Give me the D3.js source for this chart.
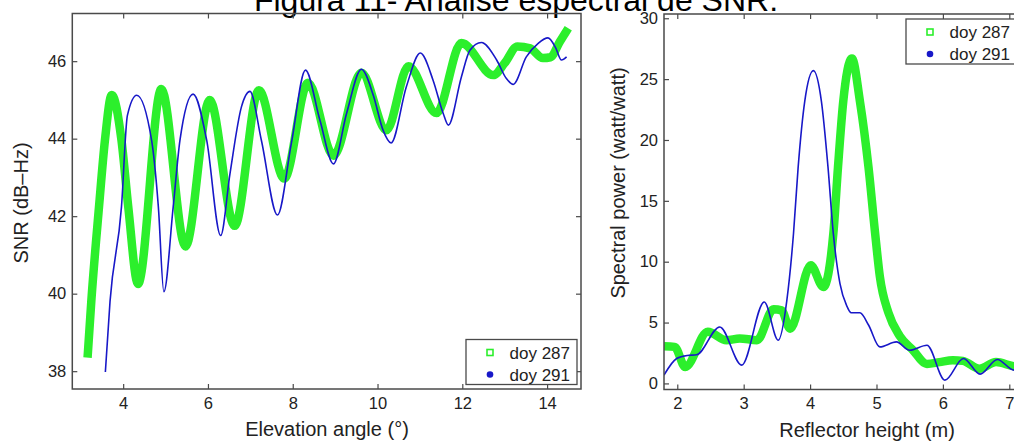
<!DOCTYPE html>
<html>
<head>
<meta charset="utf-8">
<script src="https://cdn.jsdelivr.net/npm/d3@7"></script>
<style>
  body { margin: 0; background: #fff; }
  svg { display: block; font-family: "Liberation Sans", Arial, sans-serif; }
</style>
</head>
<body>
<svg id="chart" width="1014" height="446"></svg>
<script>
// SNR vs elevation angle, doy 287 (green squares) and doy 291 (blue dots)
const snr287Angle = [3.16, 3.25, 3.43, 3.57, 3.73, 3.96, 4.12, 4.35, 4.9, 5.47, 6.04, 6.63, 7.2, 7.8,
  8.36, 8.96, 9.62, 10.21, 10.73, 11.39, 11.98, 12.73, 13.0, 13.3, 13.6, 13.9, 14.08, 14.3, 14.5];
const snr287Value = [38.35, 39.83, 42.24, 43.96, 45.13, 43.96, 42.24, 40.25, 45.28, 41.22, 45.0, 41.75, 45.25, 42.97,
  45.44, 43.56, 45.7, 44.22, 45.87, 44.66, 46.47, 45.64, 45.95, 46.38, 46.33, 46.08, 46.1, 46.5, 46.85];

const snr291Angle = [3.58, 3.69, 3.96, 4.1, 4.32, 4.67, 4.83, 4.96, 5.18, 5.34, 5.65, 5.97, 6.3, 6.52, 6.79, 6.99,
  7.26, 7.64, 7.97, 8.3, 8.64, 8.96, 9.27, 9.62, 9.9, 10.13, 10.32, 10.68, 11.01, 11.31, 11.55, 11.67,
  11.98, 12.18, 12.45, 12.81, 13.04, 13.2, 13.51, 13.79, 14.02, 14.2, 14.34, 14.46];
const snr291Value = [37.98, 39.8, 42.24, 44.6, 45.12, 43.96, 42.24, 40.05, 42.24, 43.96, 45.15, 43.96, 41.5, 43.1, 44.82, 45.22,
  43.96, 42.03, 43.9, 45.77, 44.48, 43.35, 44.65, 45.79, 45.12, 44.22, 43.89, 45.34, 46.21, 45.51, 44.65, 44.35,
  45.6, 46.28, 46.48, 46.03, 45.55, 45.4, 46.11, 46.46, 46.6, 46.35, 46.03, 46.11];

// Spectral power vs reflector height
const spec287Height = [1.8, 1.96, 2.12, 2.46, 2.74, 2.94, 3.2, 3.45, 3.57, 3.7, 4.01, 4.2, 4.35, 4.42, 4.5, 4.63,
  4.75, 4.88, 4.98, 5.05, 5.18, 5.35, 5.55, 5.76, 5.95, 6.15, 6.3, 6.55, 6.8, 7.1, 7.3];
const spec287Power = [3.05, 3.0, 1.35, 4.25, 3.55, 3.7, 3.55, 6.1, 6.0, 4.5, 9.7, 7.92, 12.3, 17.75, 23.2, 26.7,
  23.2, 17.75, 12.3, 8.8, 5.8, 3.9, 2.73, 1.6, 1.75, 1.9, 1.85, 1.2, 1.75, 1.4, 1.5];

const spec291Height = [1.8, 1.99, 2.15, 2.29, 2.64, 2.97, 3.31, 3.52, 3.65, 3.75, 3.82, 3.92, 4.05, 4.17, 4.27, 4.35,
  4.45, 4.55, 4.62, 4.75, 4.88, 5.05, 5.3, 5.5, 5.76, 6.03, 6.31, 6.56, 6.82, 7.07, 7.3];
const spec291Power = [0.68, 2.05, 2.3, 2.35, 4.64, 1.5, 6.69, 3.55, 6.83, 12.3, 17.75, 23.2, 25.7, 23.2, 17.75, 12.3,
  8.2, 6.4, 5.8, 5.8, 4.8, 3.0, 3.41, 2.73, 3.14, 0.27, 2.05, 0.76, 1.97, 1.09, 1.4];

const leftXTicks = [4, 6, 8, 10, 12, 14];
const leftYTicks = [38, 40, 42, 44, 46];
const rightXTicks = [2, 3, 4, 5, 6, 7];
const rightYTicks = [0, 5, 10, 15, 20, 25, 30];
const seriesNames = ["doy 287", "doy 291"];

const green = "#2cef2c";
const blue = "#1818c8";
const frameColor = "#4a4a4a";
const textColor = "#222";

const svg = d3.select("#chart");

svg.append("text")
  .attr("x", 516).attr("y", 11)
  .attr("text-anchor", "middle")
  .attr("font-size", 32)
  .attr("fill", "#000")
  .text("Figura 11- Análise espectral de SNR.");

function panel(opts) {
  const { id, left, right, top, bottom, xDomain, yDomain, xTicks, yTicks } = opts;
  const x = d3.scaleLinear().domain(xDomain).range([left, right]);
  const y = d3.scaleLinear().domain(yDomain).range([bottom, top]);
  const g = svg.append("g");

  g.append("clipPath").attr("id", id)
    .append("rect")
    .attr("x", left).attr("y", top)
    .attr("width", right - left).attr("height", bottom - top);

  const line = d3.line()
    .curve(d3.curveMonotoneX)
    .x(d => x(d[0]))
    .y(d => y(d[1]));

  const plot = g.append("g").attr("clip-path", `url(#${id})`);
  plot.append("path")
    .attr("d", line(d3.zip(opts.greenX, opts.greenY)))
    .attr("fill", "none")
    .attr("stroke", green)
    .attr("stroke-width", 8.5)
    .attr("stroke-linejoin", "round");
  plot.append("path")
    .attr("d", line(d3.zip(opts.blueX, opts.blueY)))
    .attr("fill", "none")
    .attr("stroke", blue)
    .attr("stroke-width", 1.6)
    .attr("stroke-linejoin", "round");

  const styleAxis = sel => {
    sel.select(".domain").remove();
    sel.selectAll(".tick line").attr("stroke", frameColor).attr("stroke-width", 1.2);
    sel.selectAll(".tick text").attr("fill", textColor).attr("font-size", 16.5)
      .attr("font-family", "Liberation Sans, Arial, sans-serif");
  };
  const fmt = d3.format("d");
  g.append("g").attr("transform", `translate(0,${bottom})`)
    .call(d3.axisBottom(x).tickValues(xTicks).tickSize(-5).tickPadding(8).tickFormat(fmt)).call(styleAxis);
  g.append("g").attr("transform", `translate(0,${top})`)
    .call(d3.axisTop(x).tickValues(xTicks).tickSize(-5).tickFormat("")).call(styleAxis);
  g.append("g").attr("transform", `translate(${left},0)`)
    .call(d3.axisLeft(y).tickValues(yTicks).tickSize(-5).tickPadding(6).tickFormat(fmt)).call(styleAxis);
  g.append("g").attr("transform", `translate(${right},0)`)
    .call(d3.axisRight(y).tickValues(yTicks).tickSize(-5).tickFormat("")).call(styleAxis);

  g.append("rect")
    .attr("x", left).attr("y", top)
    .attr("width", right - left).attr("height", bottom - top)
    .attr("fill", "none").attr("stroke", frameColor).attr("stroke-width", 1.5);

  g.append("text")
    .attr("x", opts.xLabelX).attr("y", opts.xLabelY)
    .attr("text-anchor", "middle").attr("font-size", 20).attr("fill", textColor)
    .text(opts.xLabel);
  g.append("text")
    .attr("transform", `translate(${opts.yLabelX},${opts.yLabelY}) rotate(-90)`)
    .attr("text-anchor", "middle").attr("font-size", 20).attr("fill", textColor)
    .text(opts.yLabel);

  // legend box
  const lw = 111, lh = 45;
  const lx = opts.legendRight - lw, ly = opts.legendTop;
  const leg = g.append("g").attr("transform", `translate(${lx},${ly})`);
  leg.append("rect").attr("width", lw).attr("height", lh)
    .attr("fill", "#fff").attr("stroke", frameColor).attr("stroke-width", 1.3);
  leg.append("rect").attr("x", 21).attr("y", 10).attr("width", 6).attr("height", 6)
    .attr("fill", "none").attr("stroke", green).attr("stroke-width", 1.6);
  leg.append("circle").attr("cx", 24).attr("cy", 35).attr("r", 3.3).attr("fill", blue);
  leg.selectAll("text.lab").data(seriesNames).join("text")
    .attr("class", "lab")
    .attr("x", 43.5).attr("y", (d, i) => 19 + i * 22)
    .attr("font-size", 17).attr("fill", textColor)
    .text(d => d);
}

panel({
  id: "clipLeft", left: 72.3, right: 581, top: 13.5, bottom: 389,
  xDomain: [2.8, 14.8], yDomain: [37.54, 47.23],
  xTicks: leftXTicks, yTicks: leftYTicks,
  greenX: snr287Angle, greenY: snr287Value, blueX: snr291Angle, blueY: snr291Value,
  xLabel: "Elevation angle (°)", xLabelX: 327, xLabelY: 436,
  yLabel: "SNR (dB–Hz)", yLabelX: 28, yLabelY: 203,
  legendRight: 577, legendTop: 339.5
});

panel({
  id: "clipRight", left: 664, right: 1021, top: 14, bottom: 389.5,
  xDomain: [1.8, 2 + (1021 - 677.3) / 66.4], yDomain: [-0.5, 30.35],
  xTicks: rightXTicks, yTicks: rightYTicks,
  greenX: spec287Height, greenY: spec287Power, blueX: spec291Height, blueY: spec291Power,
  xLabel: "Reflector height (m)", xLabelX: 867, xLabelY: 437,
  yLabel: "Spectral power (watt/watt)", yLabelX: 625, yLabelY: 183,
  legendRight: 1017, legendTop: 19
});
</script>
</body>
</html>
